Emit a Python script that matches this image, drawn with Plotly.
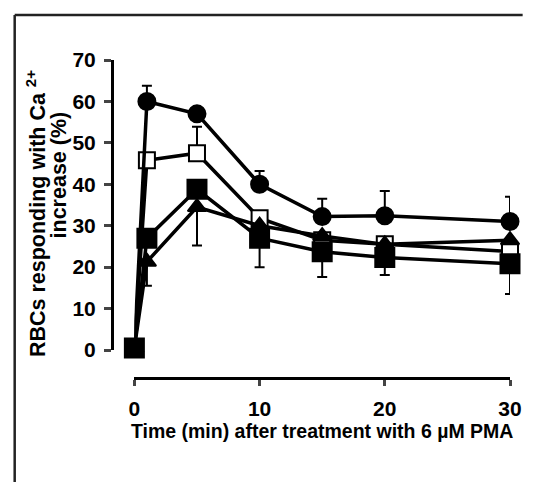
import plotly.graph_objects as go

W, H = 534, 482
time_min = [0, 1, 5, 10, 15, 20, 30]

circle_vals = [0.5, 60.0, 57.0, 40.0, 32.2, 32.4, 31.0]
circle_err_up = [0, 3.8, 0, 3.2, 4.3, 6.0, 6.0]

open_sq_vals = [0.5, 45.8, 47.5, 31.8, 26.5, 25.5, 23.8]
open_sq_err_up = [0, 0, 6.4, 0, 0, 0, 0]

triangle_vals = [0.5, 21.3, 34.5, 30.0, 27.5, 25.5, 26.5]
triangle_err_down = [0, 5.8, 9.3, 0, 0, 0, 0]

filled_sq_vals = [0.5, 27.0, 38.8, 27.0, 23.7, 22.3, 20.8]
filled_sq_err_down = [0, 0, 0, 7.0, 6.1, 4.2, 7.3]

x_ticks = [0, 10, 20, 30]
y_ticks = [0, 10, 20, 30, 40, 50, 60, 70]

y_title_1 = "<b>RBCs responding with Ca <sup>2+</sup></b>"
y_title_2 = "<b>increase (%)</b>"
x_title = "<b>Time (min) after treatment with 6 µM PMA</b>"

FONT = "Liberation Sans, Arial, sans-serif"

fig = go.Figure()

def add(y, symbol, size, fill, up=None, down=None):
    err = None
    if up is not None or down is not None:
        err = dict(type="data", symmetric=False,
                   array=up if up is not None else [0] * len(y),
                   arrayminus=down if down is not None else [0] * len(y),
                   color="black", thickness=2, width=5)
    fig.add_trace(go.Scatter(
        x=time_min, y=y, mode="lines+markers",
        line=dict(color="black", width=3.5),
        marker=dict(symbol=symbol, size=size, color=fill,
                    line=dict(color="black", width=2)),
        error_y=err, cliponaxis=False, showlegend=False))

add(open_sq_vals, "square", 16, "white", up=open_sq_err_up)
add(triangle_vals, "triangle-up", 16, "black", down=triangle_err_down)
add(circle_vals, "circle", 17, "black", up=circle_err_up)
add(filled_sq_vals, "square", 19, "black", down=filled_sq_err_down)

# plot geometry in pixels
L, R, T, B = 112, 13, 60, 104
pw, ph = W - L - R, H - T - B
x0px, y0px = 135, 350

def px_to_paper(px, py):
    return (px - L) / pw, 1 - (py - T) / ph

fig.update_layout(
    width=W, height=H,
    margin=dict(l=L, r=R, t=T, b=B, pad=0),
    paper_bgcolor="white", plot_bgcolor="white",
    font=dict(family=FONT, size=20, color="black"),
    xaxis=dict(domain=[(x0px - L) / pw, 1], range=[0, 30],
               anchor="free", position=0,
               tickvals=x_ticks, ticks="outside", ticklen=6, tickwidth=2.5,
               ticklabelstandoff=5,
               showline=True, linewidth=3, linecolor="black",
               showgrid=False, zeroline=False,
               tickfont=dict(size=21, family=FONT, weight="bold"),
               title=dict(text=x_title,
                          font=dict(size=19.5, family=FONT), standoff=1)),
    yaxis=dict(domain=[(T + ph - y0px) / ph, 1],
               range=[0, 70], anchor="free", position=0,
               tickvals=y_ticks, ticks="outside", ticklen=7, tickwidth=2.5,
               ticklabelstandoff=4,
               showline=True, linewidth=3, linecolor="black",
               showgrid=False, zeroline=False,
               tickfont=dict(size=21, family=FONT, weight="bold")),
)

ax1, ay1 = px_to_paper(34, 214)
ax2, ay2 = px_to_paper(58, 175)
fig.add_annotation(xref="paper", yref="paper", x=ax1, y=ay1, text=y_title_1,
                   textangle=-90, showarrow=False, font=dict(size=21.5, family=FONT),
                   xanchor="center", yanchor="middle")
fig.add_annotation(xref="paper", yref="paper", x=ax2, y=ay2, text=y_title_2,
                   textangle=-90, showarrow=False, font=dict(size=21.5, family=FONT),
                   xanchor="center", yanchor="middle")

# outer frame (top and left edges visible)
fx0, fy0 = px_to_paper(12, 15)
fx1, _ = px_to_paper(W, 15)
_, fy1 = px_to_paper(12, H)
fig.add_shape(type="line", xref="paper", yref="paper", x0=fx0, y0=fy0, x1=fx1, y1=fy0,
              line=dict(color="#222", width=2.5))
fig.add_shape(type="line", xref="paper", yref="paper", x0=fx0, y0=fy0, x1=fx0, y1=fy1,
              line=dict(color="#222", width=2.5))

fig.write_html("out.html", config={"displayModeBar": False})
